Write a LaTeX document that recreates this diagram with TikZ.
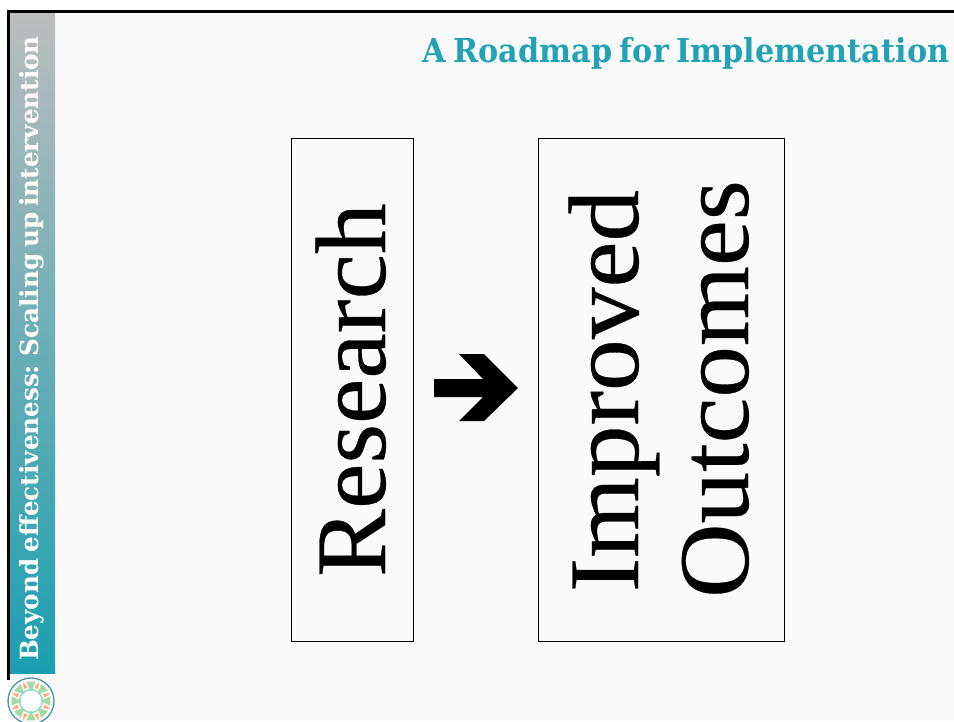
\documentclass[tikz,border=0pt]{standalone}
\usepackage{fontspec}
\setmainfont[WordSpace=0.7]{DejaVu Serif}
\newfontfamily\bodyfont[FakeBold=0.3]{Liberation Serif}
\usetikzlibrary{calc}
\definecolor{teal1}{HTML}{22A2B4}
\definecolor{sidebot}{HTML}{1A9FB0}
\definecolor{sidetop}{HTML}{BDBDBD}
\definecolor{pagebg}{HTML}{FAFAFA}
\tikzset{
  x=1pt,y=-1pt,
  bigbox/.style={draw=black,line width=1pt},
  bigtext/.style={rotate=90,anchor=base,inner sep=0pt,font=\bodyfont},
  sidetext/.style={rotate=90,anchor=base,inner sep=0pt,text=white,font=\bfseries},
  titletext/.style={anchor=base east,inner sep=0pt,text=teal1,font=\bfseries}
}
\begin{document}
\begin{tikzpicture}
\useasboundingbox (0,0) rectangle (954,721);
\fill[white] (0,0) rectangle (954,721);
\fill[pagebg] (8,11) rectangle (954,721);
\shade[bottom color=sidebot,top color=sidetop] (10,12) rectangle (55,673);
\draw[black,line width=3pt] (8.5,680) -- (8.5,11) -- (954,11);
% emblem
\begin{scope}[shift={(31,701)}]
  \fill[white] (0,0) circle (23);
  \foreach \a in {0,45,...,315}{
    \fill[green!40!gray!50] (\a:9) -- (\a+14:20) -- (\a-14:20) -- cycle;
    \fill[orange!60!red!50] (\a+22.5:21) -- (\a+14:14) -- (\a+31:14) -- cycle;
  }
  \draw[teal1!60!gray,line width=1.3pt] (0,0) circle (23);
  \draw[green!30!teal1!50,line width=1.5pt] (0,0) circle (11.5);
  \fill[white] (0,0) circle (10);
\end{scope}
\node[sidetext] (side) at (38,348.5) {\scalebox{0.985}[1]{\fontsize{25}{25}\selectfont Beyond effectiveness: Scaling up intervention}};
\node[titletext] (title) at (949.5,62) {\scalebox{0.918}[1]{\fontsize{33}{33}\selectfont A Roadmap for Implementation}};
\node[bigbox,minimum width=122pt,minimum height=503pt,inner sep=0pt] (b1) at (352.5,389.5) {};
\node[bigbox,minimum width=246pt,minimum height=503pt,inner sep=0pt] (b2) at (661,389.5) {};
\node[bigtext] (research) at (385,390) {\scalebox{1.02}[1]{\fontsize{100}{100}\selectfont Research}};
\node[bigtext] (improved) at (638,391) {\scalebox{1.035}[1]{\fontsize{100}{100}\selectfont Improved}};
\node[bigtext] (outcomes) at (748,389) {\scalebox{1.03}[1]{\fontsize{100}{100}\selectfont Outcomes}};
\fill[black] (434,379) -- (483,379) -- (459,354) -- (484,354) -- (518,388) -- (484,421) -- (459,421) -- (483,397) -- (434,397) -- cycle;
\end{tikzpicture}
\end{document}
